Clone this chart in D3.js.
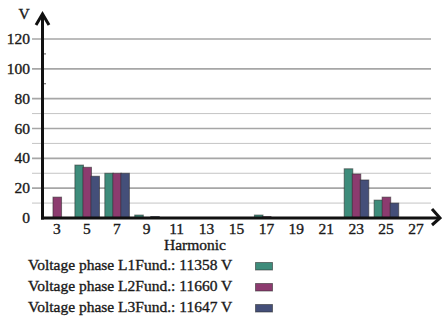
<!DOCTYPE html>
<html>
<head>
<meta charset="utf-8">
<script src="https://cdn.jsdelivr.net/npm/d3@7"></script>
<style>
  html, body { margin: 0; padding: 0; background: #fff; }
</style>
</head>
<body>
<div id="chart"></div>
<script>
const width = 442;
const height = 317;

// harmonic order on the x axis
const harmonics = ['3', '5', '7', '9', '11', '13', '15', '17', '19', '21', '23', '25', '27'];
// voltage per phase (V)
const phaseL1 = [0, 35.5, 30, 2, 0, 0, 0, 2, 0, 0, 33, 12, 0];
const phaseL2 = [14, 34, 30, 0, 0, 0, 0, 1, 0, 0, 29.5, 14, 0];
const phaseL3 = [0, 28, 30, 1, 0, 0, 0, 0, 0, 0, 25.5, 10, 0];
const seriesNames = ['Voltage phase L1Fund.: 11358 V', 'Voltage phase L2Fund.: 11660 V', 'Voltage phase L3Fund.: 11647 V'];
const seriesColors = ['#3e8c7b', '#8c3b6f', '#444f79'];
const majorTicks = [0, 20, 40, 60, 80, 100, 120];
const minorGrid = [10, 30, 50, 70];
const minorTicks = [90, 110];

const series = [phaseL1, phaseL2, phaseL3];

const x = d3.scaleBand()
    .domain(harmonics)
    .range([42, 431])
    .padding(0);

const x1 = d3.scaleBand()
    .domain(d3.range(series.length))
    .range([0, x.bandwidth()])
    .paddingInner(0)
    .paddingOuter(0.37);

const y = d3.scaleLinear()
    .domain([0, 120])
    .range([218, 39]);

const svg = d3.select('#chart')
    .append('svg')
    .attr('width', width)
    .attr('height', height)
    .attr('viewBox', [0, 0, width, height])
    .style('display', 'block');

// gridlines
svg.append('g')
    .selectAll('line')
    .data(minorGrid)
    .join('line')
        .attr('x1', 32).attr('x2', 431)
        .attr('y1', d => y(d)).attr('y2', d => y(d))
        .attr('stroke', '#c4c4c4')
        .attr('stroke-width', 1);

svg.append('g')
    .selectAll('line')
    .data(majorTicks.filter(d => d > 0))
    .join('line')
        .attr('x1', 32).attr('x2', 431)
        .attr('y1', d => y(d)).attr('y2', d => y(d))
        .attr('stroke', '#a6a6a6')
        .attr('stroke-width', 1.6);

// small ticks on the axis where no gridline is drawn
svg.append('g')
    .selectAll('line')
    .data(minorTicks)
    .join('line')
        .attr('x1', 42).attr('x2', 46)
        .attr('y1', d => y(d)).attr('y2', d => y(d))
        .attr('stroke', '#555')
        .attr('stroke-width', 1);

// bars
const groups = svg.append('g')
    .selectAll('g')
    .data(harmonics)
    .join('g')
        .attr('transform', d => `translate(${x(d)},0)`);

groups.selectAll('rect')
    .data((h, i) => series.map((s, k) => ({k, v: s[i]})))
    .join('rect')
        .attr('x', d => x1(d.k))
        .attr('width', x1.bandwidth() + 0.6)
        .attr('y', d => y(d.v))
        .attr('height', d => y(0) - y(d.v))
        .attr('fill', d => seriesColors[d.k])
        .attr('stroke', '#2a2a2a')
        .attr('stroke-opacity', 0.55)
        .attr('stroke-width', 1);

const textFill = '#1a1a1a';
const fontSize = 15.5;

// font set on each text node; heavier ink like the reference
const ink = sel => sel
    .style('font-family', '"Liberation Serif"')
    .style('font-size', fontSize + 'px')
    .attr('fill', textFill)
    .attr('stroke', textFill)
    .attr('stroke-width', 0.35);

// y tick labels
svg.append('g')
    .selectAll('text')
    .data(majorTicks)
    .join('text')
        .call(ink)
        .attr('text-anchor', 'end')
        .attr('x', 30)
        .attr('y', d => y(d))
        .attr('dy', '0.33em')
        .text(d => d);

// x tick labels
svg.append('g')
    .selectAll('text')
    .data(harmonics)
    .join('text')
        .call(ink)
        .attr('text-anchor', 'middle')
        .attr('x', d => x(d) + x.bandwidth() / 2)
        .attr('y', 234)
        .text(d => d);

// axes with arrows
const axisColor = '#111';
svg.append('line')
    .attr('x1', 42.5).attr('x2', 42.5)
    .attr('y1', 219.5).attr('y2', 14)
    .attr('stroke', axisColor).attr('stroke-width', 3);
svg.append('path')
    .attr('d', 'M36,25 L42.5,14 L49,25')
    .attr('fill', 'none').attr('stroke', axisColor).attr('stroke-width', 3);

svg.append('line')
    .attr('x1', 41).attr('x2', 439)
    .attr('y1', 218).attr('y2', 218)
    .attr('stroke', axisColor).attr('stroke-width', 3);
svg.append('path')
    .attr('d', 'M432,209 L440,218 L432,225')
    .attr('fill', 'none').attr('stroke', axisColor).attr('stroke-width', 3);

svg.append('text')
    .call(ink)
    .attr('x', 24).attr('y', 19)
    .attr('text-anchor', 'middle')
    .text('V');

svg.append('text')
    .call(ink)
    .attr('x', 195).attr('y', 250)
    .attr('text-anchor', 'middle')
    .text('Harmonic');

// legend
const legend = svg.append('g')
    .selectAll('g')
    .data(seriesNames)
    .join('g')
        .attr('transform', (d, i) => `translate(0,${i * 21})`);

legend.append('text')
    .call(ink)
    .attr('x', 28).attr('y', 270)
    .text(d => d);

legend.append('rect')
    .attr('x', 255.5).attr('y', 262.5)
    .attr('width', 17).attr('height', 7.5)
    .attr('fill', (d, i) => seriesColors[i])
    .attr('stroke', '#2a2a2a')
    .attr('stroke-opacity', 0.55)
    .attr('stroke-width', 1);
</script>
</body>
</html>
